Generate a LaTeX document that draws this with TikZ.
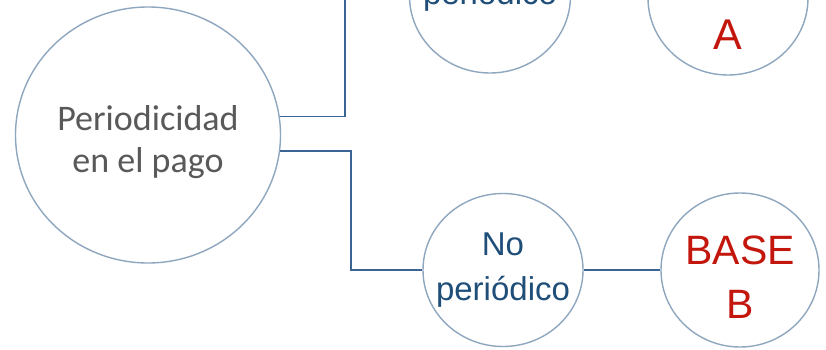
\documentclass[tikz,border=0pt]{standalone}
\usepackage{fontspec}
\setmainfont{Liberation Sans}
\newfontfamily\calfont{Carlito}
\usetikzlibrary{shapes.geometric}
\definecolor{ringc}{HTML}{8EA7BF}
\definecolor{linkc}{HTML}{3A6491}
\definecolor{bluet}{HTML}{1F4E79}
\definecolor{redt}{HTML}{C3170D}
\definecolor{grayt}{HTML}{595959}
\newcommand{\zw}[1]{\makebox[0pt]{#1}}
\newcommand{\hr}[1]{\rule{0pt}{#1pt}}
\newcommand{\dr}[1]{\rule[-#1pt]{0pt}{#1pt}}
\tikzset{
  ring/.style={ellipse, draw=ringc, line width=1.4pt, inner sep=0pt, align=center, fill=white},
  link/.style={draw=linkc, line width=1.8pt},
  bluetext/.style={text=bluet, font=\fontsize{33}{45}\selectfont},
  redtext/.style={text=redt},
}
\begin{document}
\begin{tikzpicture}[x=1pt,y=-1pt]
\clip (0,0) rectangle (826,350);
\fill[white] (0,0) rectangle (826,350);
\node[ring, minimum width=265pt, minimum height=256pt, text=grayt,
      font=\calfont\fontsize{36}{42}\selectfont] (big) at (148,135)
  {\zw{\hr{40}Periodicidad}\\\zw{en el pago\dr{8}}};
\node[ring, bluetext, minimum width=161pt, minimum height=154pt] (per) at (490,-4)
  {\zw{\hr{26}periódico\dr{8}}};
\node[ring, redtext, font=\fontsize{43}{54}\selectfont, minimum width=160pt, minimum height=154pt] (ba) at (728,-2)
  {\zw{\hr{50}BASE}\\\zw{A}};
\node[ring, bluetext, minimum width=160pt, minimum height=153pt] (nop) at (503,270)
  {\zw{\hr{25}No}\\\zw{periódico\dr{10}}};
\node[ring, redtext, font=\fontsize{41}{54}\selectfont, minimum width=158pt, minimum height=154pt] (bb) at (740,270)
  {\zw{\hr{43}BASE}\\\zw{B}};
\coordinate (m1) at (345,60);
\coordinate (m2) at (351,200);
\draw[link] (big.8.7) -| (m1) |- (per.west);
\draw[link] (big.-7.8) -| (m2) |- (nop.west);
\draw[link] (per.east) -- (ba.west);
\draw[link] (nop.east) -- (bb.west);
\end{tikzpicture}
\end{document}
